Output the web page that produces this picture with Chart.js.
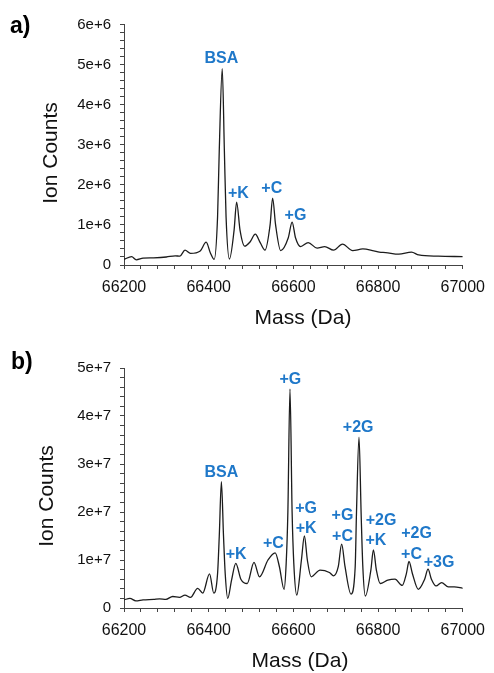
<!DOCTYPE html>
<html>
<head>
<meta charset="utf-8">
<script src="https://cdn.jsdelivr.net/npm/chart.js@4.4.1/dist/chart.umd.min.js"></script>
<style>
  body { margin: 0; background: #fff; width: 494px; height: 673px; overflow: hidden; position: relative; }
  .panel { position: absolute; left: 0; width: 494px; }
</style>
</head>
<body>
<div class="panel" style="top:0;height:336px"><canvas id="chartA"></canvas></div>
<div class="panel" style="top:336px;height:337px"><canvas id="chartB"></canvas></div>
<script>
// Panel a) spectrum (ion counts in units of 1e6)
const massA = [66200, 66218, 66229, 66245, 66270, 66300, 66321, 66332, 66344, 66357, 66380, 66394, 66404, 66413,
  66421, 66425, 66432, 66437, 66441, 66449, 66460, 66466, 66474, 66485, 66498, 66510, 66522, 66533, 66545, 66551,
  66558, 66570, 66588, 66597, 66605, 66617, 66635, 66656, 66674, 66695, 66716, 66740, 66764, 66790, 66803, 66818,
  66849, 66879, 66896, 66942, 67000];
const countsA = [0.14, 0.21, 0.13, 0.17, 0.18, 0.2, 0.23, 0.22, 0.37, 0.29, 0.35, 0.57, 0.3, 0.14,
  1.21, 2.87, 4.9, 2.87, 1.21, 0.15, 0.87, 1.57, 0.87, 0.47, 0.58, 0.77, 0.55, 0.37, 1.0, 1.67,
  1.0, 0.36, 0.68, 1.07, 0.68, 0.46, 0.56, 0.42, 0.46, 0.37, 0.52, 0.36, 0.4, 0.35, 0.32, 0.31,
  0.27, 0.32, 0.25, 0.22, 0.21];

// Panel b) spectrum (ion counts in units of 1e7)
const massB = [66200, 66214, 66228, 66245, 66270, 66284, 66299, 66315, 66331, 66344, 66357, 66374, 66386, 66402, 66412,
  66421, 66425, 66430, 66435, 66439, 66445, 66454, 66464, 66476, 66491, 66507, 66520, 66540, 66557, 66567, 66578,
  66583, 66587, 66592, 66597, 66601, 66608, 66619, 66626, 66633, 66642, 66663, 66685, 66695, 66706, 66714, 66722,
  66736, 66746, 66749, 66755, 66760, 66764, 66770, 66783, 66789, 66796, 66805, 66823, 66840, 66857, 66867, 66873,
  66881, 66895, 66910, 66918, 66926, 66937, 66950, 66966, 66980, 67000];
const countsB = [0.17, 0.2, 0.15, 0.17, 0.18, 0.19, 0.18, 0.24, 0.22, 0.27, 0.22, 0.41, 0.31, 0.71, 0.31,
  0.72, 1.5, 2.63, 1.5, 0.72, 0.2, 0.58, 0.93, 0.6, 0.51, 0.95, 0.65, 1.0, 1.15, 0.86, 0.39,
  0.93, 2.0, 4.56, 2.0, 0.93, 0.27, 1.0, 1.5, 1.0, 0.65, 0.79, 0.74, 0.67, 0.86, 1.33, 0.86,
  0.29, 0.86, 1.97, 3.56, 1.97, 0.86, 0.25, 0.79, 1.21, 0.79, 0.51, 0.58, 0.6, 0.47, 0.72, 0.97,
  0.72, 0.39, 0.6, 0.81, 0.6, 0.46, 0.53, 0.44, 0.44, 0.41];

// Peak annotations: text, mass, height of text baseline (same units as the series)
const peakTextA = ['BSA', '+K', '+C', '+G'];
const peakMassA = [66430, 66470, 66549, 66605];
const peakCountA = [5.03, 1.68, 1.8, 1.13];

const peakTextB = ['+G', '+2G', 'BSA', '+G', '+K', '+G', '+C', '+2G', '+K', '+2G', '+C', '+3G', '+K', '+C'];
const peakMassB = [66593, 66753, 66430, 66630, 66630, 66716, 66716, 66807, 66795, 66891, 66879, 66944, 66465, 66553];
const peakCountB = [4.67, 3.67, 2.73, 1.98, 1.56, 1.83, 1.40, 1.73, 1.31, 1.46, 1.02, 0.85, 1.02, 1.25];

// Axis ranges / tick labels
const massTicks = [66200, 66400, 66600, 66800, 67000];
const yMaxA = 6, yExpA = 6;
const yMaxB = 5, yExpB = 7;

const FONT = "'Liberation Sans', Arial, Helvetica, sans-serif";
const BLUE = '#1f78c9';
const AXIS = '#444';

const textPlugin = {
  id: 'spectrumText',
  afterDraw(chart, args, opts) {
    const ctx = chart.ctx;
    const xs = chart.scales.x, ys = chart.scales.y;
    ctx.save();
    // panel letter
    ctx.fillStyle = '#000';
    ctx.font = 'bold 23px ' + FONT;
    ctx.textAlign = 'left';
    ctx.textBaseline = 'middle';
    ctx.fillText(opts.letter, opts.letterX, opts.letterY);
    // axis titles
    ctx.font = '21px ' + FONT;
    ctx.textAlign = 'center';
    ctx.fillStyle = '#111';
    ctx.fillText('Mass (Da)', opts.xTitleX, opts.xTitleY);
    ctx.translate(opts.yTitleX, opts.yTitleY);
    ctx.rotate(-Math.PI / 2);
    ctx.fillText('Ion Counts', 0, 0);
    ctx.restore();
    // peak labels
    ctx.save();
    ctx.fillStyle = BLUE;
    ctx.font = 'bold 16px ' + FONT;
    ctx.textAlign = 'center';
    ctx.textBaseline = 'alphabetic';
    opts.text.forEach((t, i) => {
      ctx.fillText(t, xs.getPixelForValue(opts.mass[i]), ys.getPixelForValue(opts.count[i] * opts.unit));
    });
    ctx.restore();
  }
};

function makeChart(id, mass, counts, yMax, yExp, xAxisH, padTop, labelOpts) {
  const unit = Math.pow(10, yExp);
  labelOpts.unit = unit;
  new Chart(document.getElementById(id), {
    type: 'line',
    data: {
      datasets: [{
        data: mass.map((m, i) => ({ x: m, y: counts[i] * unit })),
        borderColor: '#1c1c1c',
        borderWidth: 1.3,
        pointRadius: 0,
        fill: false,
        cubicInterpolationMode: 'monotone'
      }]
    },
    options: {
      responsive: true,
      maintainAspectRatio: false,
      animation: false,
      devicePixelRatio: 1,
      layout: { padding: { top: padTop, right: 26, left: 0, bottom: 0 } },
      plugins: { legend: { display: false }, tooltip: { enabled: false }, spectrumText: labelOpts },
      scales: {
        x: {
          type: 'linear',
          min: massTicks[0],
          max: massTicks[massTicks.length - 1],
          afterFit(scale) { scale.height = xAxisH; },
          border: { display: true, color: AXIS, width: 1 },
          grid: { drawOnChartArea: false, drawTicks: true, tickLength: 4, color: AXIS },
          ticks: {
            stepSize: 40,
            autoSkip: false,
            maxRotation: 0,
            padding: 9,
            color: '#111',
            font: { family: FONT, size: 16 },
            callback: v => massTicks.includes(v) ? String(v) : ''
          }
        },
        y: {
          min: 0,
          max: yMax * unit,
          afterFit(scale) { scale.width = 124; },
          border: { display: true, color: AXIS, width: 1 },
          grid: { drawOnChartArea: false, drawTicks: true, tickLength: 4, color: AXIS },
          ticks: {
            stepSize: 0.2 * unit,
            autoSkip: false,
            padding: 9,
            color: '#111',
            font: { family: FONT, size: 15 },
            callback: v => {
              const k = Math.round(v / unit * 10) / 10;
              if (k === 0) return '0';
              return Number.isInteger(k) ? k + 'e+' + yExp : '';
            }
          }
        }
      }
    },
    plugins: [textPlugin]
  });
}

makeChart('chartA', massA, countsA, yMaxA, yExpA, 71, 24.5, {
  letter: 'a)', letterX: 10, letterY: 27,
  xTitleX: 303, xTitleY: 318, yTitleX: 51, yTitleY: 153,
  text: peakTextA, mass: peakMassA, count: peakCountA
});
makeChart('chartB', massB, countsB, yMaxB, yExpB, 65, 32, {
  letter: 'b)', letterX: 11, letterY: 27,
  xTitleX: 300, xTitleY: 325, yTitleX: 47, yTitleY: 160,
  text: peakTextB, mass: peakMassB, count: peakCountB
});
</script>
</body>
</html>
